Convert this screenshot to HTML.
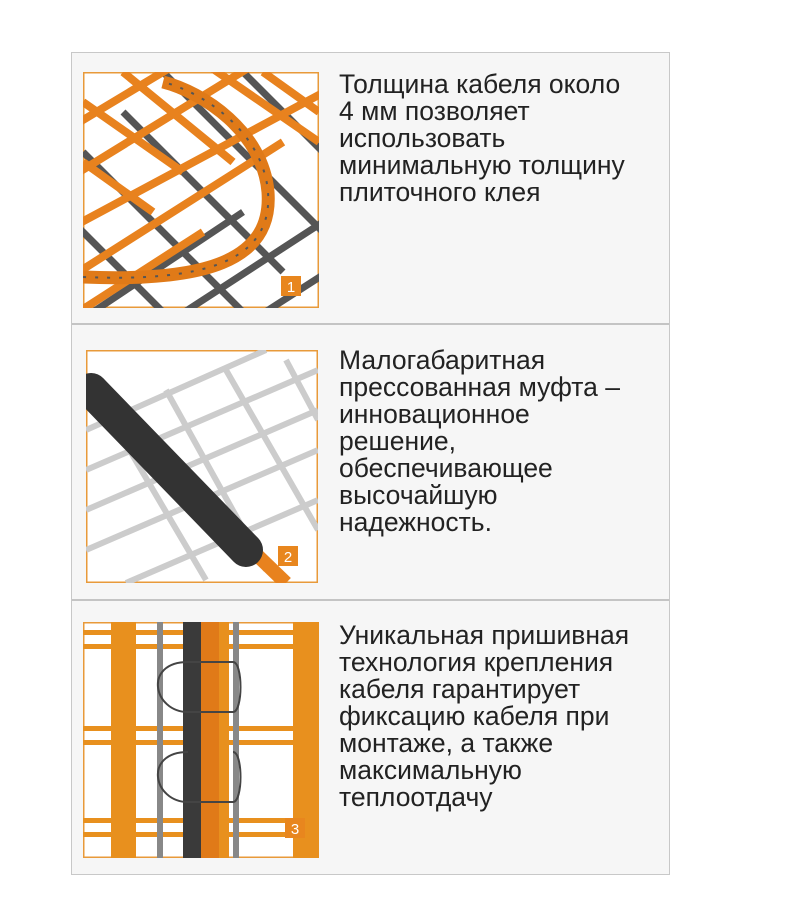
<!DOCTYPE html>
<html><head><meta charset="utf-8"><style>
body{margin:0;background:#fff;width:796px;height:900px;position:relative;font-family:"Liberation Sans",sans-serif;overflow:hidden}
.box{position:absolute;left:71px;top:52px;width:597px;height:821px;border:1px solid #c8c8c8;background:#f6f6f6}
.sep{position:absolute;left:72px;width:597px;height:2px;background:#c4c4c4}
.t{position:absolute;left:339px;font-size:26.5px;line-height:27px;color:#222;white-space:nowrap}
svg{position:absolute}
</style></head><body>
<div class="box"></div>
<div class="sep" style="top:323px"></div>
<div class="sep" style="top:599px"></div>

<svg style="left:83px;top:72px" width="236" height="236" viewBox="0 0 236 236">
<rect width="236" height="236" fill="#fff" stroke="#e89a3a" stroke-width="3"/>
<g stroke="#555" stroke-width="7">
<path d="M-40 120 L120 280 M0 80 L160 240 M40 40 L200 200 M80 0 L240 160 M-40 200 L40 280 M120 -40 L280 120"/>
<path d="M-20 260 L160 140 M40 280 L240 150 M120 280 L260 190"/>
</g>
<g stroke="#e8821e" stroke-width="8">
<path d="M-20 60 L180 -60 M-20 110 L240 -50 M-20 160 L260 10 M-20 210 L200 70 M-20 250 L120 160"/>
<path d="M0 30 L100 100 M40 0 L150 90 M120 -10 L236 70 M0 90 L70 140 M180 0 L236 40"/>
</g>
<path d="M0 205 C120 210 190 190 185 120 C180 60 120 20 80 10" stroke="#e07a18" stroke-width="13" fill="none"/>
<path d="M0 205 C120 210 190 190 185 120 C180 60 120 20 80 10" stroke="#555" stroke-width="2" fill="none" stroke-dasharray="3 9"/>
<rect x="198" y="204" width="20" height="20" fill="#e8861e"/>
<text x="208" y="220" font-size="15" fill="#fff" text-anchor="middle" font-family="Liberation Sans">1</text>
</svg>

<svg style="left:86px;top:350px" width="232" height="233" viewBox="0 0 232 233">
<rect width="232" height="233" fill="#fff" stroke="#e89a3a" stroke-width="3"/>
<g stroke="#ccc" stroke-width="6">
<path d="M0 120 L232 20 M0 160 L232 60 M0 200 L232 100 M40 233 L232 150 M0 80 L180 0"/>
<path d="M20 60 L120 230 M80 40 L180 220 M140 20 L232 180 M200 10 L232 70"/>
</g>
<path d="M10 50 L200 233" stroke="#e8821e" stroke-width="14"/>
<path d="M5 40 L160 200" stroke="#333" stroke-width="34" stroke-linecap="round"/>
<rect x="192" y="196" width="20" height="20" fill="#e8861e"/>
<text x="202" y="212" font-size="15" fill="#fff" text-anchor="middle" font-family="Liberation Sans">2</text>
</svg>

<svg style="left:83px;top:622px" width="236" height="236" viewBox="0 0 236 236">
<rect width="236" height="236" fill="#fff" stroke="#e89a3a" stroke-width="3"/>
<g fill="#e8901e">
<rect x="28" y="0" width="25" height="236"/><rect x="210" y="0" width="26" height="236"/>
<rect x="0" y="8" width="236" height="5"/><rect x="0" y="22" width="236" height="5"/>
<rect x="0" y="104" width="236" height="5"/><rect x="0" y="118" width="236" height="5"/>
<rect x="0" y="196" width="236" height="5"/><rect x="0" y="210" width="236" height="5"/>
<rect x="132" y="0" width="14" height="236"/>
</g>
<rect x="74" y="0" width="6" height="236" fill="#888"/>
<rect x="150" y="0" width="6" height="236" fill="#888"/>
<rect x="100" y="0" width="18" height="236" fill="#3a3a3a"/>
<rect x="118" y="0" width="18" height="236" fill="#e07a18"/>
<path d="M105 40 C60 40 70 90 105 90 L150 90 C160 90 160 40 150 40 L105 40 M105 130 C60 130 70 180 105 180 L150 180 C160 180 160 130 150 130" stroke="#444" stroke-width="2" fill="none"/>
<rect x="202" y="196" width="20" height="20" fill="#e8861e"/>
<text x="212" y="212" font-size="15" fill="#fff" text-anchor="middle" font-family="Liberation Sans">3</text>
</svg>

<div class="t" style="top:71px">Толщина кабеля около<br>4 мм позволяет<br>использовать<br>минимальную толщину<br>плиточного клея</div>
<div class="t" style="top:347px">Малогабаритная<br>прессованная муфта –<br>инновационное<br>решение,<br>обеспечивающее<br>высочайшую<br>надежность.</div>
<div class="t" style="top:622px">Уникальная пришивная<br>технология крепления<br>кабеля гарантирует<br>фиксацию кабеля при<br>монтаже, а также<br>максимальную<br>теплоотдачу</div>
</body></html>
